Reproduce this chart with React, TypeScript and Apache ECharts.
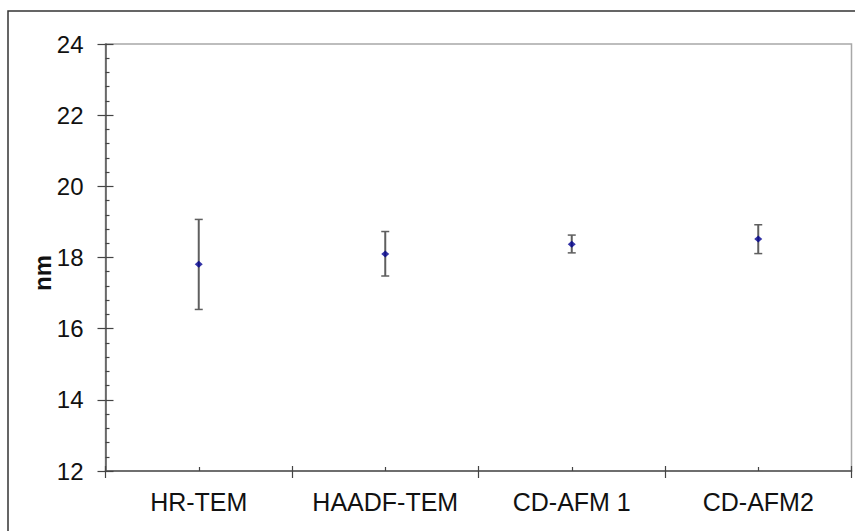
import React, { useEffect, useRef } from "react";
import * as echarts from "echarts";

const categories = ["HR-TEM", "HAADF-TEM", "CD-AFM 1", "CD-AFM2"];
const means = [17.81, 18.1, 18.37, 18.52];
const errLow = [16.54, 17.48, 18.13, 18.11];
const errHigh = [19.07, 18.73, 18.63, 18.92];
const yMin = 12;
const yMax = 24;
const yStep = 2;
const axisName = "nm";

export default function App() {
  const ref = useRef<HTMLDivElement>(null);
  useEffect(() => {
    document.body.style.margin = "0";
    const chart = echarts.init(ref.current!, null, { renderer: "svg" });
    const font = "Liberation Sans, Arial, sans-serif";
    const errData = categories.map((_, i) => [i, errLow[i], errHigh[i]]);
    const hiddenX = {
      type: "category" as const,
      data: categories,
      gridIndex: 0,
      position: "bottom" as const,
      offset: 0,
      axisLine: { show: false },
      axisLabel: { show: false, interval: 0 },
      splitLine: { show: false },
    };
    chart.setOption({
      animation: false,
      backgroundColor: "#ffffff",
      grid: {
        left: 105.5,
        right: 3.5,
        top: 44,
        bottom: 60,
        show: true,
        borderColor: "#a8a8a8",
        borderWidth: 1.5,
      },
      xAxis: [
        {
          type: "category",
          data: categories,
          position: "bottom",
          axisLine: { show: true, lineStyle: { color: "#555", width: 1.5 } },
          axisTick: { show: true, interval: 0, length: 7, lineStyle: { color: "#444", width: 1.2 } },
          axisLabel: { color: "#111", fontSize: 25, fontFamily: font, margin: 18, interval: 0, hideOverlap: false },
          splitLine: { show: false },
        },
        {
          ...hiddenX,
          axisTick: { show: true, interval: 0, inside: true, length: 5, lineStyle: { color: "#444", width: 1.2 } },
        },
        {
          ...hiddenX,
          axisTick: { show: true, interval: 0, inside: true, alignWithLabel: true, length: 4, lineStyle: { color: "#444", width: 1.2 } },
        },
      ],
      yAxis: [
        {
          type: "value",
          min: yMin,
          max: yMax,
          interval: yStep,
          position: "left",
          axisLine: { show: true, lineStyle: { color: "#555", width: 1.5 } },
          axisTick: { show: true, length: 8, lineStyle: { color: "#444", width: 1.2 } },
          axisLabel: { color: "#111", fontSize: 24, fontFamily: font, margin: 22 },
          splitLine: { show: false },
        },
        {
          type: "value",
          min: yMin,
          max: yMax,
          interval: yStep,
          position: "left",
          offset: 0,
          axisLine: { show: false },
          axisTick: { show: true, inside: true, length: 8, lineStyle: { color: "#444", width: 1.2 } },
          minorTick: { show: true, splitNumber: 5, length: 4, lineStyle: { color: "#444", width: 1.2 } },
          axisLabel: { show: false },
          splitLine: { show: false },
        },
      ],
      graphic: [
        {
          type: "rect",
          shape: { x: 8, y: 11, width: 900, height: 600 },
          style: { fill: "none", stroke: "#333", lineWidth: 1.5 },
          z: 100,
        },
        {
          type: "text",
          x: 42,
          y: 273,
          rotation: Math.PI / 2,
          style: {
            text: axisName,
            fontSize: 24,
            fontWeight: "bold",
            fontFamily: font,
            fill: "#111",
            align: "center",
            verticalAlign: "middle",
          },
        },
      ],
      series: [
        {
          type: "custom",
          xAxisIndex: 0,
          yAxisIndex: 0,
          data: errData,
          z: 2,
          renderItem: (params: any, api: any) => {
            const x = api.value(0);
            const lo = api.coord([x, api.value(1)]);
            const hi = api.coord([x, api.value(2)]);
            const cap = 4;
            const st = { stroke: "#5f5f5f", lineWidth: 2 };
            return {
              type: "group",
              children: [
                { type: "line", shape: { x1: lo[0], y1: lo[1], x2: hi[0], y2: hi[1] }, style: st },
                { type: "line", shape: { x1: lo[0] - cap, y1: lo[1], x2: lo[0] + cap, y2: lo[1] }, style: { ...st, lineWidth: 1.5 } },
                { type: "line", shape: { x1: hi[0] - cap, y1: hi[1], x2: hi[0] + cap, y2: hi[1] }, style: { ...st, lineWidth: 1.5 } },
              ],
            };
          },
        },
        {
          type: "scatter",
          xAxisIndex: 0,
          yAxisIndex: 0,
          data: means,
          symbol: "diamond",
          symbolSize: [8, 7],
          itemStyle: { color: "#000090" },
          z: 3,
        },
      ],
    });
    return () => chart.dispose();
  }, []);
  return <div ref={ref} style={{ width: 855, height: 531 }} />;
}
